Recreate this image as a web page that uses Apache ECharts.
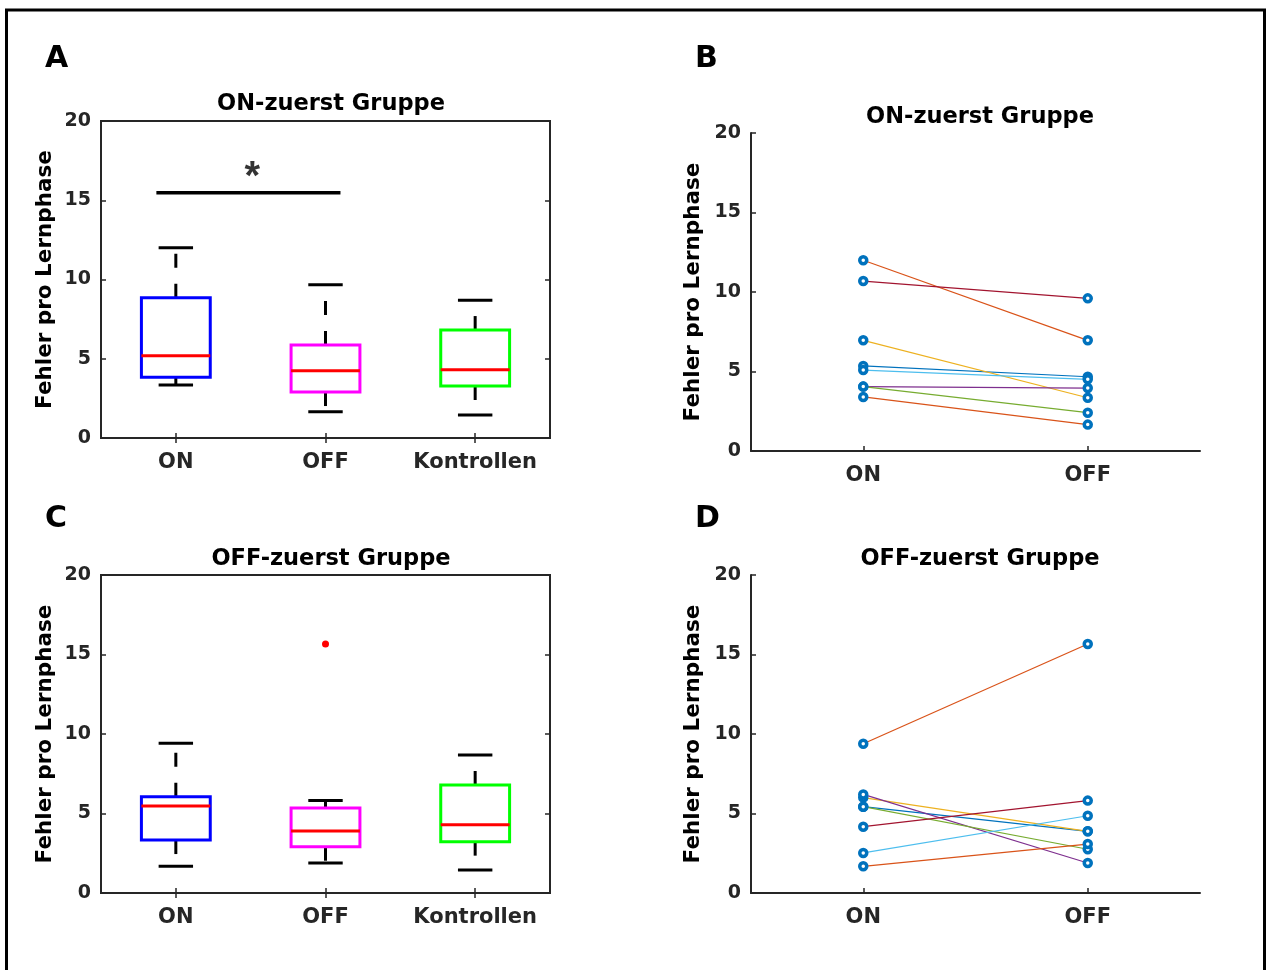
<!DOCTYPE html>
<html>
<head>
<meta charset="utf-8">
<title>Fehler pro Lernphase</title>
<script src="https://cdn.jsdelivr.net/npm/echarts@6/dist/echarts.min.js"></script>
<style>
  html, body { margin: 0; padding: 0; background: #fff; }
  #main { width: 1266px; height: 970px; }
</style>
</head>
<body>
<div id="main"></div>
<script>
// Boxplot-Kategorien und Fuenf-Punkte-Werte [min, Q1, Median, Q3, max]
var boxCategories = ['ON', 'OFF', 'Kontrollen'];
var onFirstBoxes = [
    [3.34, 3.83, 5.19, 8.85, 12.0],
    [1.66, 2.90, 4.25, 5.87, 9.67],
    [1.45, 3.28, 4.31, 6.81, 8.69]
];
var offFirstBoxes = [
    [1.68, 3.33, 5.47, 6.06, 9.42],
    [1.89, 2.91, 3.90, 5.35, 5.81],
    [1.45, 3.23, 4.30, 6.79, 8.68]
];
var offFirstOutliers = [[2, 15.66]];
var boxColors = ['#0000ff', '#ff00ff', '#00ff00'];

// Signifikanzbalken in Panel A
var sigBar = [[0.87, 15.48], [2.1, 15.48]];
var sigStar = [[1.51, 16.4]];

// Einzelverlaeufe ON -> OFF
var pairCategories = ['ON', 'OFF'];
var onFirstOn  = [5.35, 12.0, 6.96, 4.05, 4.05, 5.09, 10.69, 3.40];
var onFirstOff = [4.67, 6.96, 3.35, 3.96, 2.41, 4.51, 9.60, 1.66];
var offFirstOn  = [5.43, 9.39, 6.00, 6.20, 5.43, 2.52, 4.17, 1.68];
var offFirstOff = [3.88, 15.66, 3.88, 1.89, 2.75, 4.86, 5.81, 3.08];
var pairColors = ['#0072bd', '#d95319', '#edb120', '#7e2f8e', '#77ac30', '#4dbeee', '#a2142f', '#d95319'];

var FONT = 'DejaVu Sans';
var AXIS_COLOR = '#262626';
var BOX_HALF = 0.23;   // halbe Boxbreite in Achseneinheiten
var CAP_HALF = 0.115;

var oChart = echarts.init(document.getElementById('main'));

// Boxen mit gestrichelten Whiskern zeichnen
function renderBox(params, api) {
    var x = api.value(0);
    var lo = api.value(1), q1 = api.value(2), med = api.value(3), q3 = api.value(4), hi = api.value(5);
    var color = boxColors[params.dataIndex];
    var pTop = api.coord([x, q3]), pHi = api.coord([x, hi]);
    var pBot = api.coord([x, q1]), pLo = api.coord([x, lo]);
    var pLT = api.coord([x - BOX_HALF, q3]), pRB = api.coord([x + BOX_HALF, q1]);
    var pML = api.coord([x - BOX_HALF, med]), pMR = api.coord([x + BOX_HALF, med]);
    var pCapL = api.coord([x - CAP_HALF, hi]), pCapR = api.coord([x + CAP_HALF, hi]);
    var pCapL2 = api.coord([x - CAP_HALF, lo]), pCapR2 = api.coord([x + CAP_HALF, lo]);
    var whisker = { stroke: '#000', lineWidth: 3, lineDash: [14, 16] };
    return {
        type: 'group',
        children: [
            { type: 'line', shape: { x1: pTop[0], y1: pTop[1], x2: pHi[0], y2: pHi[1] }, style: whisker },
            { type: 'line', shape: { x1: pBot[0], y1: pBot[1], x2: pLo[0], y2: pLo[1] }, style: whisker },
            { type: 'line', shape: { x1: pCapL[0], y1: pCapL[1], x2: pCapR[0], y2: pCapR[1] }, style: { stroke: '#000', lineWidth: 3 } },
            { type: 'line', shape: { x1: pCapL2[0], y1: pCapL2[1], x2: pCapR2[0], y2: pCapR2[1] }, style: { stroke: '#000', lineWidth: 3 } },
            { type: 'rect', shape: { x: pLT[0], y: pLT[1], width: pRB[0] - pLT[0], height: pRB[1] - pLT[1] },
              style: { fill: 'none', stroke: color, lineWidth: 3 } },
            { type: 'line', shape: { x1: pML[0], y1: pML[1], x2: pMR[0], y2: pMR[1] }, style: { stroke: '#ff0000', lineWidth: 3 } }
        ]
    };
}

function boxData(aBoxes) {
    return aBoxes.map(function (b, i) { return [i + 1].concat(b); });
}

var labelStyle = { fontFamily: FONT, fontWeight: 'bold', fontSize: 19, color: AXIS_COLOR };
var nameStyle = { fontFamily: FONT, fontWeight: 'bold', fontSize: 21.5, color: '#000' };

var aGrids = [
    { left: 101, top: 121, width: 449, height: 317, show: true, borderColor: AXIS_COLOR, borderWidth: 2 },
    { left: 751, top: 133, width: 449, height: 318 },
    { left: 101, top: 575, width: 449, height: 318, show: true, borderColor: AXIS_COLOR, borderWidth: 2 },
    { left: 751, top: 575, width: 449, height: 318 }
];

var xAxes = [], yAxes = [];
aGrids.forEach(function (g, i) {
    var isBox = (i % 2 === 0);
    var cats = isBox ? boxCategories : pairCategories;
    var ticks = cats.map(function (c, k) { return k + 1; });
    xAxes.push({
        type: 'value', gridIndex: i, min: 0.5, max: cats.length + 0.5,
        axisLine: { show: !isBox, onZero: false, lineStyle: { color: AXIS_COLOR, width: 2 } },
        axisTick: { inside: true, length: 5, customValues: ticks, lineStyle: { color: AXIS_COLOR, width: 1.5 } },
        axisLabel: {
            customValues: ticks, margin: 14, fontFamily: FONT, fontWeight: 'bold', fontSize: 21, color: AXIS_COLOR,
            formatter: function (v) { return cats[Math.round(v) - 1] || ''; }
        },
        splitLine: { show: false }
    });
    yAxes.push({
        type: 'value', gridIndex: i, min: 0, max: 20, interval: 5,
        name: 'Fehler pro Lernphase', nameLocation: 'middle', nameGap: isBox ? 45 : 47,
        nameTextStyle: nameStyle,
        axisLine: { show: !isBox, lineStyle: { color: AXIS_COLOR, width: 2 } },
        axisTick: { inside: true, length: 5, lineStyle: { color: AXIS_COLOR, width: 1.5 } },
        axisLabel: Object.assign({ margin: 10 }, labelStyle),
        splitLine: { show: false }
    });
});

// Gegenachsen (oben/rechts) fuer die Boxplots
[0, 2].forEach(function (i) {
    xAxes.push({
        type: 'value', gridIndex: i, position: 'top', min: 0.5, max: 3.5,
        axisLine: { show: false },
        axisTick: { inside: true, length: 5, customValues: [1, 2, 3], lineStyle: { color: AXIS_COLOR, width: 1.5 } },
        axisLabel: { show: false }, splitLine: { show: false }
    });
    yAxes.push({
        type: 'value', gridIndex: i, position: 'right', min: 0, max: 20, interval: 5,
        axisLine: { show: false },
        axisTick: { inside: true, length: 5, lineStyle: { color: AXIS_COLOR, width: 1.5 } },
        axisLabel: { show: false }, splitLine: { show: false }
    });
});

var aSeries = [
    { type: 'custom', xAxisIndex: 0, yAxisIndex: 0, renderItem: renderBox, data: boxData(onFirstBoxes),
      encode: { x: 0, y: [1, 2, 3, 4, 5] }, clip: false },
    { type: 'custom', xAxisIndex: 2, yAxisIndex: 2, renderItem: renderBox, data: boxData(offFirstBoxes),
      encode: { x: 0, y: [1, 2, 3, 4, 5] }, clip: false },
    { type: 'scatter', xAxisIndex: 2, yAxisIndex: 2, data: offFirstOutliers, symbol: 'circle', symbolSize: 7,
      itemStyle: { color: '#ff0000', opacity: 1 } },
    { type: 'line', xAxisIndex: 0, yAxisIndex: 0, data: sigBar, showSymbol: false,
      lineStyle: { color: '#000', width: 3.5 } },
    { type: 'scatter', xAxisIndex: 0, yAxisIndex: 0, data: sigStar, symbolSize: 1,
      itemStyle: { color: 'transparent' },
      label: { show: true, position: 'inside', formatter: '*', fontFamily: 'Liberation Sans', fontWeight: 'bold', fontSize: 40, color: '#000' } }
];

// Verbindungslinien und Marker
function addPairs(axisIdx, aOn, aOff) {
    aOn.forEach(function (v, k) {
        aSeries.push({
            type: 'line', xAxisIndex: axisIdx, yAxisIndex: axisIdx, data: [[1, v], [2, aOff[k]]],
            showSymbol: false, lineStyle: { color: pairColors[k], width: 1.2 }, z: 2
        });
    });
    var aPts = aOn.map(function (v) { return [1, v]; }).concat(aOff.map(function (v) { return [2, v]; }));
    aSeries.push({
        type: 'scatter', xAxisIndex: axisIdx, yAxisIndex: axisIdx, data: aPts, symbol: 'circle', symbolSize: 7,
        itemStyle: { color: '#ffffff', borderColor: '#0072bd', borderWidth: 3.5, opacity: 1 }, z: 5
    });
}
addPairs(1, onFirstOn, onFirstOff);
addPairs(3, offFirstOn, offFirstOff);

var titleStyle = { fontFamily: FONT, fontWeight: 'bold', fontSize: 22.5, color: '#000' };

this.oChartOption = {
    backgroundColor: '#fff',
    animation: false,
    title: [
        { text: 'ON-zuerst Gruppe', left: 326, top: 88, textAlign: 'center', textStyle: titleStyle },
        { text: 'ON-zuerst Gruppe', left: 975, top: 101, textAlign: 'center', textStyle: titleStyle },
        { text: 'OFF-zuerst Gruppe', left: 326, top: 543, textAlign: 'center', textStyle: titleStyle },
        { text: 'OFF-zuerst Gruppe', left: 975, top: 543, textAlign: 'center', textStyle: titleStyle }
    ],
    graphic: [
        { type: 'rect', shape: { x: 6.5, y: 10, width: 1258, height: 980 }, style: { fill: 'none', stroke: '#000', lineWidth: 3 } },
        { type: 'text', x: 45, y: 44, style: { text: 'A', font: 'bold 30px "DejaVu Sans"', fill: '#000' } },
        { type: 'text', x: 695, y: 44, style: { text: 'B', font: 'bold 30px "DejaVu Sans"', fill: '#000' } },
        { type: 'text', x: 45, y: 504, style: { text: 'C', font: 'bold 30px "DejaVu Sans"', fill: '#000' } },
        { type: 'text', x: 695, y: 504, style: { text: 'D', font: 'bold 30px "DejaVu Sans"', fill: '#000' } }
    ],
    grid: aGrids,
    xAxis: xAxes,
    yAxis: yAxes,
    series: aSeries
};

oChart.setOption(this.oChartOption, true);
</script>
</body>
</html>
